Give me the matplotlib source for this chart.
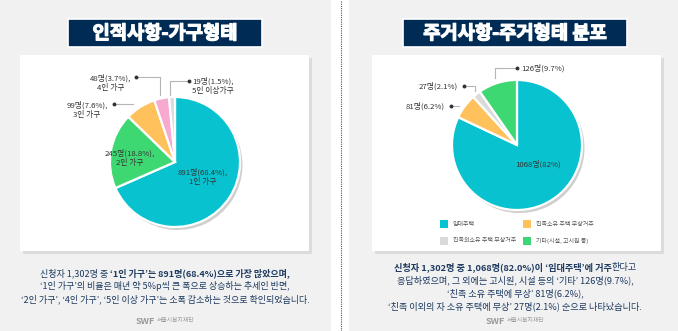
import matplotlib
matplotlib.use("Agg")
import matplotlib.pyplot as plt
from matplotlib.patches import Rectangle, Wedge
import matplotlib.patheffects as pe

plt.rcParams['font.family'] = ['Noto Sans CJK KR', 'DejaVu Sans']

# ---- data ----
left_title = "인적사항-가구형태"
left_labels = ["1인 가구", "2인 가구", "3인 가구", "4인 가구", "5인 이상가구"]
left_counts = [891, 245, 99, 48, 19]
left_pcts = [68.4, 18.8, 7.6, 3.7, 1.5]
left_colors = ["#08c3cf", "#3ed873", "#ffc15c", "#f7a9d0", "#dadada"]

right_title = "주거사항-주거형태 분포"
right_labels = ["임대주택", "친족소유 주택 무상거주", "친족외소유 주택 무상거주", "기타(시설, 고시원 등)"]
right_counts = [1068, 81, 27, 126]
right_pcts = [82, 6.2, 2.1, 9.7]
right_colors = ["#08c3cf", "#ffc15c", "#dadada", "#3ed873"]

left_text = [
    [("신청자 1,302명 중 ", "normal"), ("‘1인 가구’는 891명(68.4%)으로 가장 많았으며,", "bold")],
    [("‘1인 가구’의 비율은 매년 약 5%p씩 큰 폭으로 상승하는 추세인 반면,", "normal")],
    [("‘2인 가구’, ‘4인 가구’, ‘5인 이상 가구’는 소폭 감소하는 것으로 확인되었습니다.", "normal")],
]
right_text = [
    [("신청자 1,302명 중 1,068명(82.0%)이 ‘임대주택’에 거주", "bold"), ("한다고", "normal")],
    [("응답하였으며, 그 외에는 고시원, 시설 등의 ‘기타’ 126명(9.7%),", "normal")],
    [("‘친족 소유 주택에 무상’ 81명(6.2%),", "normal")],
    [("‘친족 이외의 자 소유 주택에 무상’ 27명(2.1%) 순으로 나타났습니다.", "normal")],
]

W, H = 678, 331
def Y(y):
    return H - y

fig = plt.figure(figsize=(W / 100, H / 100), dpi=100)
fig.patch.set_facecolor("#f1f1f1")
ax = fig.add_axes([0, 0, 1, 1])
ax.axis("off")

NAVY = "#002b55"
TXT = "#1d3a5f"

# divider
ax.add_patch(Rectangle((331, 0), 18, H, facecolor="white", edgecolor="none", zorder=0))
ax.plot([340.5, 340.5], [0, H], color="#555555", lw=0.8, ls=(0, (1, 1)), zorder=1)

# cards
for x0, x1 in [(20, 309), (372, 661)]:
    ax.add_patch(Rectangle((x0 + 3, Y(254)), x1 - x0, 196, facecolor="#dcdcdc", edgecolor="none", zorder=1))
    ax.add_patch(Rectangle((x0, Y(251)), x1 - x0, 196, facecolor="white", edgecolor="none", zorder=2))

# title boxes
for x0, x1, t in [(68, 262, left_title), (403, 627, right_title)]:
    ax.add_patch(Rectangle((x0, Y(47)), x1 - x0, 28, facecolor=NAVY, edgecolor="white", lw=1.2, zorder=3))
    ax.text((x0 + x1) / 2, Y(33.5), t, color="white", fontsize=13.5, fontweight="black",
            ha="center", va="center", zorder=4,
            path_effects=[pe.withStroke(linewidth=0.9, foreground="white")])

# pies
def draw_pie(vals, colors, cx, cy, r, explode):
    sweep = vals[0] / sum(vals) * 360
    ax.add_patch(Wedge((cx + 2.5, Y(cy) - 3), r, 90 - sweep, 90, facecolor="#cfcfcf",
                       edgecolor="none", zorder=3))
    wedges, _ = ax.pie(vals, colors=colors, startangle=90, counterclock=False,
                       center=(cx, Y(cy)), radius=r, explode=explode, frame=True,
                       wedgeprops=dict(edgecolor="white", linewidth=1.6))
    for w in wedges:
        w.set_zorder(4)

draw_pie(left_counts, left_colors, 175, 162, 65, [0, 0.05, 0.05, 0.05, 0.05])
draw_pie(right_counts, right_colors, 517, 145, 65, [0, 0.06, 0.06, 0.06])

LBL = dict(fontsize=5.6, color="#333333", zorder=6, linespacing=1.35)

# left pie labels
ax.text(203, Y(177), f"{left_counts[0]}명({left_pcts[0]}%),\n{left_labels[0]}", ha="center", va="center", **LBL)
ax.text(130, Y(158), f"{left_counts[1]}명({left_pcts[1]}%),\n{left_labels[1]}", ha="center", va="center", **LBL)
ax.text(87, Y(110), f"{left_counts[2]}명({left_pcts[2]}%),\n{left_labels[2]}", ha="center", va="center", **LBL)
ax.text(111, Y(83), f"{left_counts[3]}명({left_pcts[3]}%),\n{left_labels[3]}", ha="center", va="center", **LBL)
ax.text(213, Y(86), f"{left_counts[4]}명({left_pcts[4]}%),\n{left_labels[4]}", ha="center", va="center", **LBL)

LC = dict(color="#b5b5b5", lw=0.8, zorder=5)
DOT = dict(marker="o", ms=1.8, color="#333333", zorder=6, ls="none")
ax.plot([114, 133], [Y(104), Y(104)], **LC); ax.plot([114], [Y(104)], **DOT)
ax.plot([136, 160, 160], [Y(77), Y(77), Y(95)], **LC); ax.plot([136], [Y(77)], **DOT)
ax.plot([189, 170, 170], [Y(81), Y(81), Y(95)], **LC); ax.plot([189], [Y(81)], **DOT)

# right pie labels
ax.text(538, Y(164), f"{right_counts[0]}명({right_pcts[0]}%)", ha="center", va="center", **LBL)
ax.text(445, Y(106), f"{right_counts[1]}명({right_pcts[1]}%)", ha="right", va="center", **LBL)
ax.text(458, Y(86), f"{right_counts[2]}명({right_pcts[2]}%)", ha="right", va="center", **LBL)
ax.text(521, Y(68), f"{right_counts[3]}명({right_pcts[3]}%)", ha="left", va="center", **LBL)

ax.plot([451, 459], [Y(106), Y(106)], **LC); ax.plot([451], [Y(106)], **DOT)
ax.plot([464, 475, 475], [Y(86), Y(86), Y(91)], **LC); ax.plot([464], [Y(86)], **DOT)
ax.plot([517, 495, 495], [Y(68), Y(68), Y(78)], **LC); ax.plot([517], [Y(68)], **DOT)

# legend
leg_pos = [(440, 224), (523, 224), (440, 241), (523, 241)]
for (lx, ly), lab, col in zip(leg_pos, right_labels, right_colors):
    ax.add_patch(Rectangle((lx, Y(ly) - 4), 8, 8, facecolor=col, edgecolor="none", zorder=5))
    ax.text(lx + 13, Y(ly), lab, fontsize=4.3, color="#555555", ha="left", va="center", zorder=5)

# bottom texts with mixed weights
fig.canvas.draw()
renderer = fig.canvas.get_renderer()

def draw_runs(xc, y, runs, size):
    objs = []
    for s, wt in runs:
        t = ax.text(0, Y(y) - 3, s, fontsize=size, fontweight=wt, color=TXT,
                    ha="left", va="baseline", zorder=5)
        objs.append(t)
    widths = [t.get_window_extent(renderer=renderer).width for t in objs]
    total = sum(widths)
    x = xc - total / 2
    for t, w in zip(objs, widths):
        t.set_x(x)
        x += w

for i, line in enumerate(left_text):
    draw_runs(165, [273, 286, 299][i], line, 6.5)
for i, line in enumerate(right_text):
    draw_runs(515, [267, 280, 293, 306][i], line, 6.6)

# logos
for cx in [165, 515]:
    ax.text(cx - 29, Y(321), "SWF", fontsize=6.5, fontweight="bold", fontstyle="italic",
            color="#9a9a9a", ha="left", va="center", zorder=5)
    ax.text(cx - 8, Y(320), "서울시복지재단", fontsize=4.2, color="#9a9a9a", ha="left", va="center", zorder=5)

ax.set_xlim(0, W)
ax.set_ylim(0, H)
ax.set_aspect("auto")
fig.savefig("out.png", dpi=100, facecolor=fig.get_facecolor())
